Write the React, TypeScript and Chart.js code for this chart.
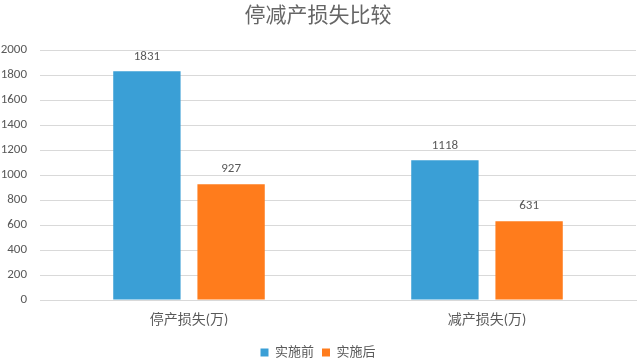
import { useEffect, useRef } from "react";
import { Chart, registerables } from "chart.js";

Chart.register(...registerables);

const categories = ["停产损失(万)", "减产损失(万)"];
const seriesNames = ["实施前", "实施后"];
const beforeValues = [1831, 1118];
const afterValues = [927, 631];
const yMin = 0;
const yMax = 2000;
const yStep = 200;
const title = "停减产损失比较";

const colors = ["#3A9FD6", "#FF7C1C"];
const textColor = "#595959";
const titleColor = "#666666";
const gridColor = "#D9D9D9";
const fontFamily = "Calibri, 'Noto Sans CJK SC', 'Microsoft YaHei', sans-serif";

const valueLabelPlugin = {
  id: "valueLabels",
  afterDatasetsDraw(chart: any) {
    const ctx = chart.ctx;
    ctx.save();
    ctx.font = `13px ${fontFamily}`;
    ctx.fillStyle = textColor;
    ctx.textAlign = "center";
    ctx.textBaseline = "middle";
    chart.data.datasets.forEach((ds: any, i: number) => {
      const meta = chart.getDatasetMeta(i);
      meta.data.forEach((bar: any, j: number) => {
        ctx.fillText(String(ds.data[j]), bar.x, bar.y - 15);
      });
    });
    ctx.restore();
  },
};

export default function App() {
  const ref = useRef<HTMLCanvasElement | null>(null);
  useEffect(() => {
    if (!ref.current) return;
    const chart = new Chart(ref.current, {
      type: "bar",
      data: {
        labels: categories,
        datasets: [
          {
            label: seriesNames[0],
            data: beforeValues,
            backgroundColor: colors[0],
            categoryPercentage: 0.565,
            barPercentage: 0.8,
          },
          {
            label: seriesNames[1],
            data: afterValues,
            backgroundColor: colors[1],
            categoryPercentage: 0.565,
            barPercentage: 0.8,
          },
        ],
      },
      options: {
        responsive: false,
        animation: false,
        layout: { padding: { left: 0, right: 4, top: 0, bottom: -10 } },
        plugins: {
          title: {
            display: true,
            text: title,
            color: titleColor,
            font: { family: fontFamily, size: 21, weight: "normal" },
            padding: { top: 4, bottom: 21 },
          },
          legend: {
            position: "bottom",
            labels: {
              color: textColor,
              font: { family: fontFamily, size: 13 },
              boxWidth: 8,
              boxHeight: 8,
              padding: 8,
            },
          },
          tooltip: { enabled: false },
        },
        scales: {
          x: {
            grid: { display: false, drawTicks: false },
            border: { color: gridColor },
            ticks: {
              color: textColor,
              font: { family: fontFamily, size: 14 },
              padding: 12,
            },
            afterFit(scale: any) {
              scale.height = 38;
            },
          },
          y: {
            min: yMin,
            max: yMax,
            grid: { color: gridColor, drawTicks: false },
            border: { display: false },
            ticks: {
              stepSize: yStep,
              color: textColor,
              font: { family: fontFamily, size: 13 },
              padding: 13,
              callback: (v: any) => String(v),
            },
            afterFit(scale: any) {
              scale.width = 40;
            },
          },
        },
      },
      plugins: [valueLabelPlugin],
    });
    return () => chart.destroy();
  }, []);
  return (
    <div style={{ position: "absolute", left: 0, top: 0, width: 640, height: 359, background: "#fff" }}>
      <canvas ref={ref} width={640} height={359} />
    </div>
  );
}
